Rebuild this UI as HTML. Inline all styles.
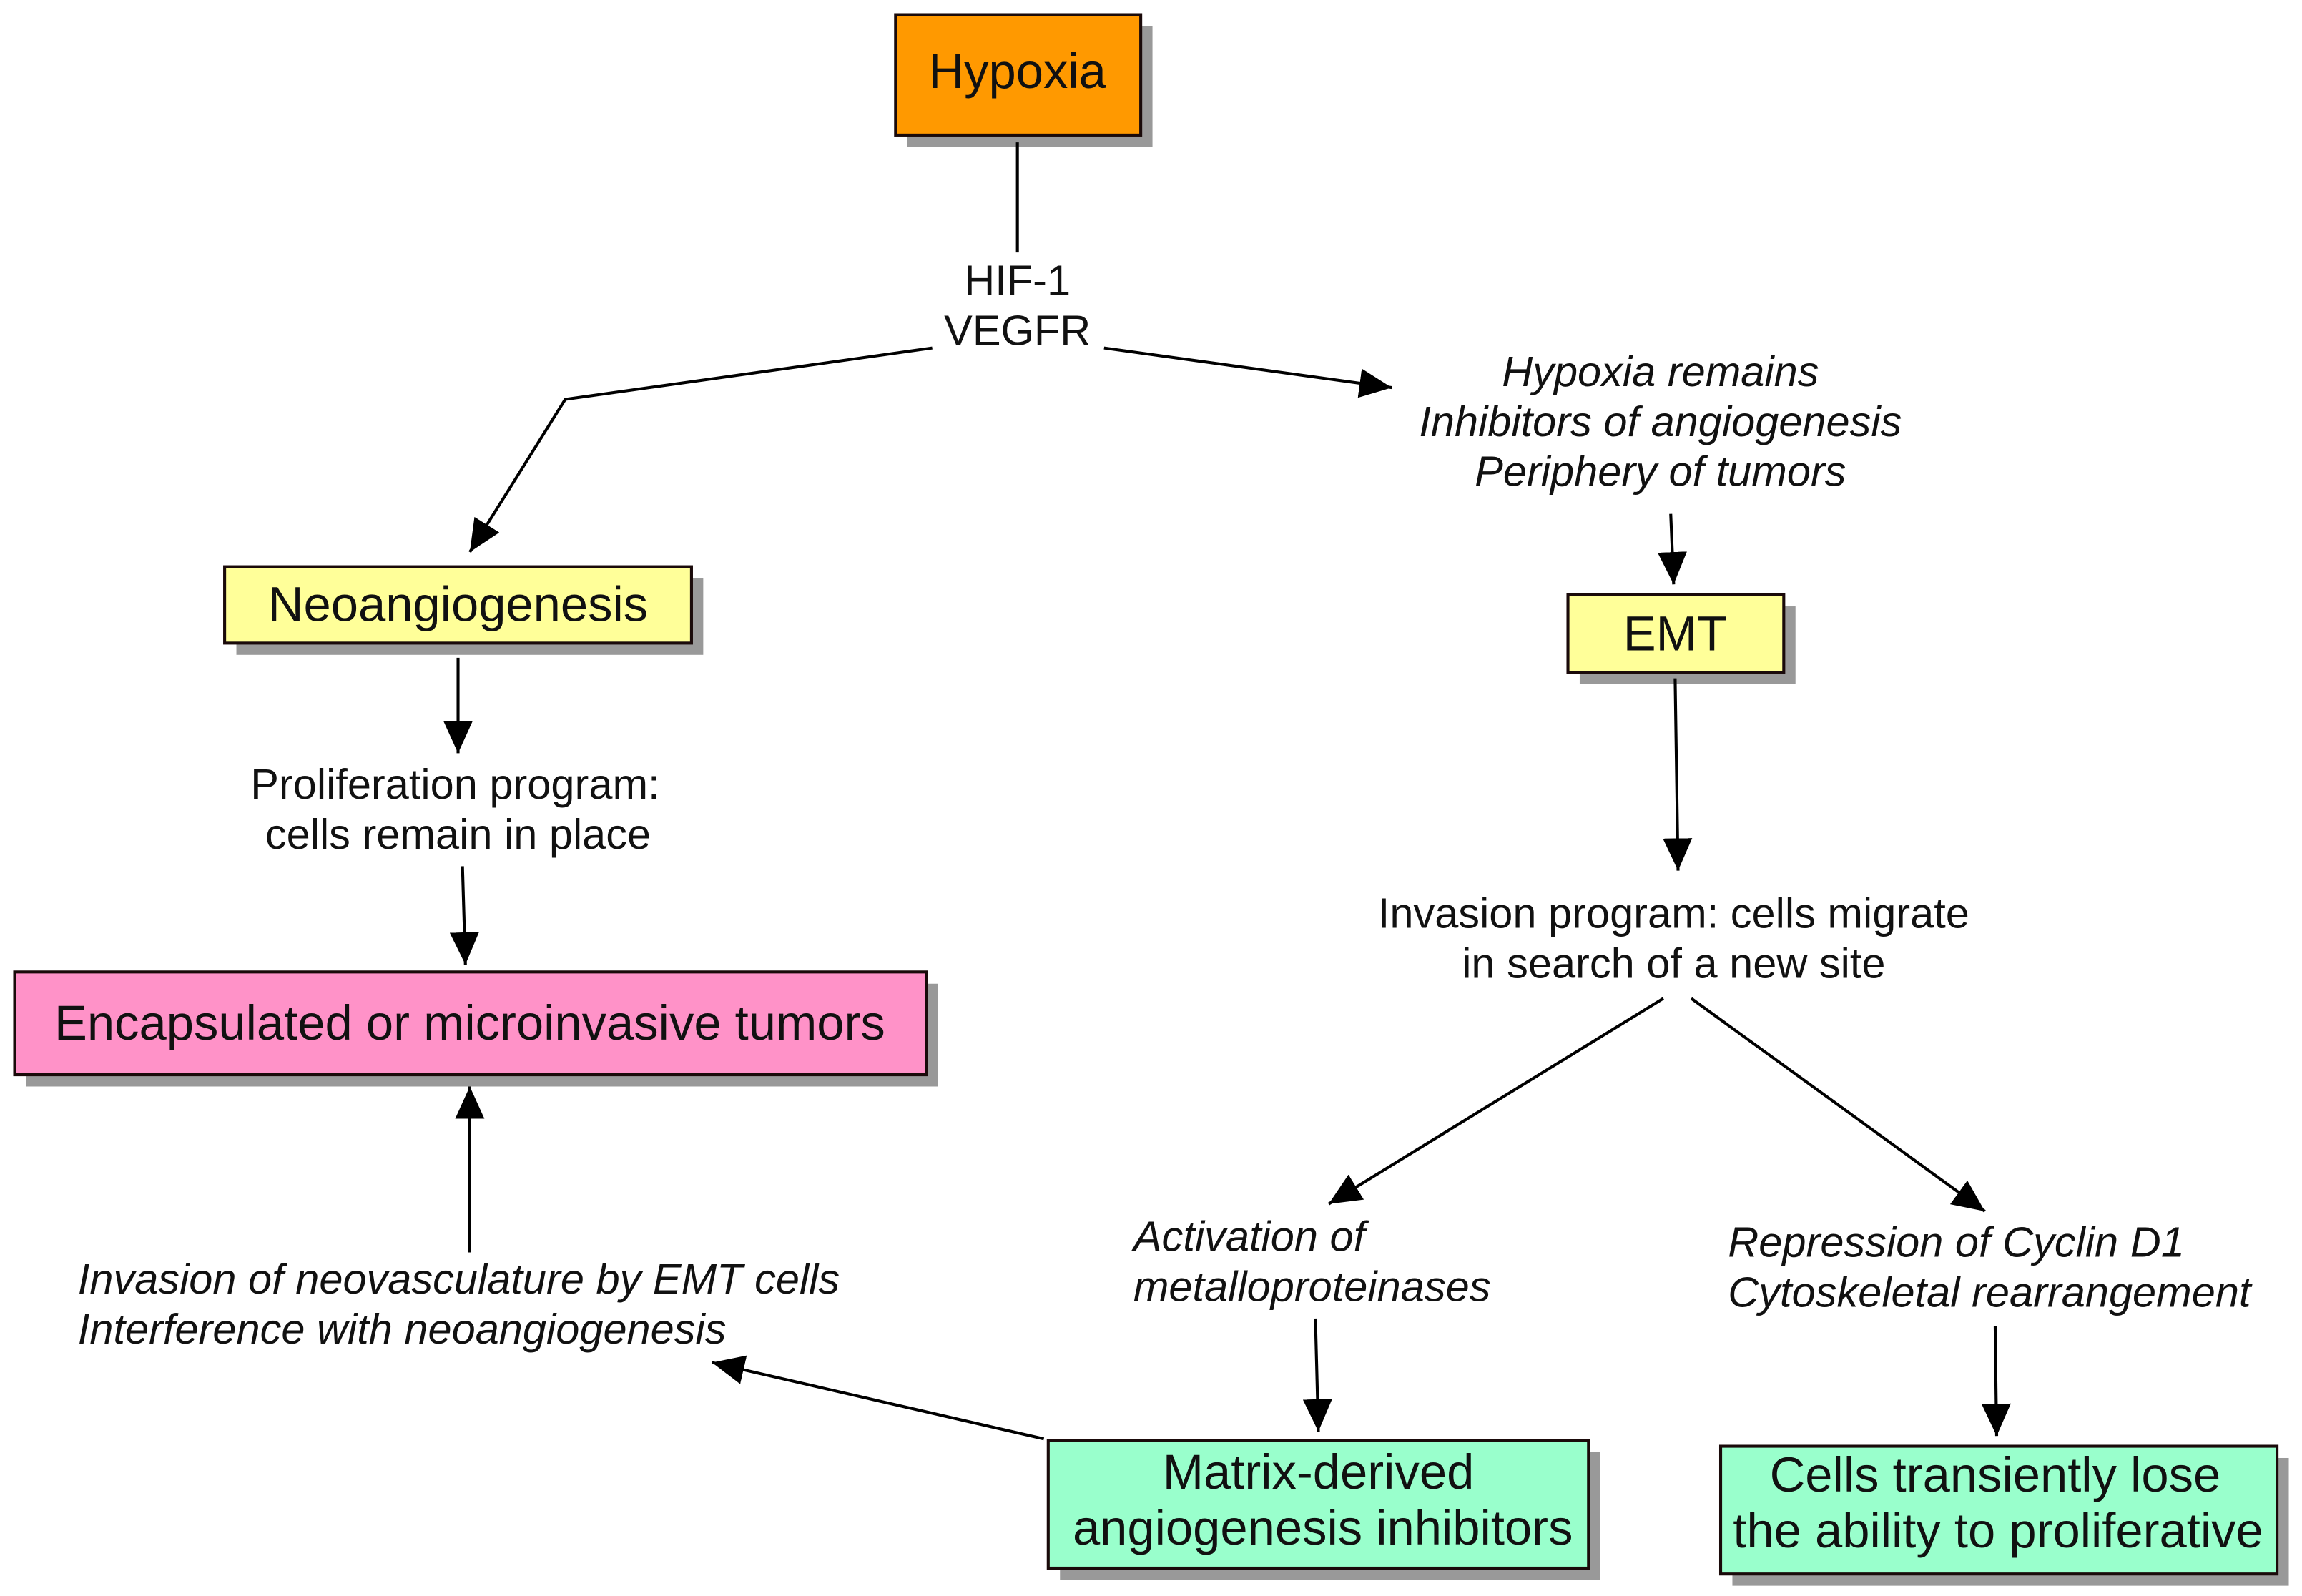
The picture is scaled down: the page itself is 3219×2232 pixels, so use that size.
<!DOCTYPE html>
<html><head><meta charset="utf-8"><style>
html,body{margin:0;padding:0;background:#fff;}
svg{display:block;}
text{font-family:"Liberation Sans",Arial,sans-serif;fill:#111;}
</style></head><body>
<svg width="3219" height="2232" viewBox="0 0 1568 1087" preserveAspectRatio="none" xmlns="http://www.w3.org/2000/svg">
<defs>
<marker id="a" markerUnits="userSpaceOnUse" markerWidth="24" markerHeight="20" refX="22" refY="10" orient="auto">
<path d="M0,0 L22,10 L0,20 Z" fill="#000"/>
</marker>
</defs>
<g fill="#999">
<rect x="618" y="18" width="167" height="82"/>
<rect x="161" y="394" width="318" height="52"/>
<rect x="1076" y="413" width="147" height="53"/>
<rect x="18" y="670" width="621" height="70"/>
<rect x="722" y="989" width="368" height="87"/>
<rect x="1180" y="993" width="379" height="87"/>
</g>
<g stroke="#1a0a0a" stroke-width="2">
<rect x="610" y="10" width="167" height="82" fill="#FF9900"/>
<rect x="153" y="386" width="318" height="52" fill="#FFFF99"/>
<rect x="1068" y="405" width="147" height="53" fill="#FFFF99"/>
<rect x="10" y="662" width="621" height="70" fill="#FF92C8"/>
<rect x="714" y="981" width="368" height="87" fill="#99FFCC"/>
<rect x="1172" y="985" width="379" height="87" fill="#99FFCC"/>
</g>
<g stroke="#000" stroke-width="2" fill="none">
<line x1="693" y1="97" x2="693" y2="172"/>
<polyline points="635,237 385,272 320,376" marker-end="url(#a)"/>
<line x1="752" y1="237" x2="948" y2="264" marker-end="url(#a)"/>
<line x1="1138" y1="350" x2="1140" y2="398" marker-end="url(#a)"/>
<line x1="312" y1="448" x2="312" y2="513" marker-end="url(#a)"/>
<line x1="315" y1="590" x2="317" y2="657" marker-end="url(#a)"/>
<line x1="320" y1="853" x2="320" y2="740" marker-end="url(#a)"/>
<line x1="711" y1="980" x2="485" y2="928" marker-end="url(#a)"/>
<line x1="1141" y1="462" x2="1143" y2="593" marker-end="url(#a)"/>
<line x1="1133" y1="680" x2="905" y2="820" marker-end="url(#a)"/>
<line x1="1152" y1="680" x2="1352" y2="825" marker-end="url(#a)"/>
<line x1="896" y1="898" x2="898" y2="975" marker-end="url(#a)"/>
<line x1="1359" y1="903" x2="1360" y2="978" marker-end="url(#a)"/>
</g>
<g font-size="33.5" text-anchor="middle">
<text x="693" y="60">Hypoxia</text>
<text x="312" y="423">Neoangiogenesis</text>
<text x="1141" y="443">EMT</text>
<text x="320" y="708">Encapsulated or microinvasive tumors</text>
<text x="898" y="1014">Matrix-derived</text>
<text x="901" y="1052">angiogenesis inhibitors</text>
<text x="1359" y="1016">Cells transiently lose</text>
<text x="1361" y="1054">the ability to proliferative</text>
</g>
<g font-size="29" text-anchor="middle">
<text x="693" y="201">HIF-1</text>
<text x="693" y="235">VEGFR</text>
<text x="310" y="544">Proliferation program:</text>
<text x="312" y="578">cells remain in place</text>
<text x="1140" y="632">Invasion program: cells migrate</text>
<text x="1140" y="666">in search of a new site</text>
</g>
<g font-size="29" font-style="italic">
<text x="1131" y="263" text-anchor="middle">Hypoxia remains</text>
<text x="1131" y="297" text-anchor="middle">Inhibitors of angiogenesis</text>
<text x="1131" y="331" text-anchor="middle">Periphery of tumors</text>
<text x="53" y="881">Invasion of neovasculature by EMT cells</text>
<text x="53" y="915">Interference with neoangiogenesis</text>
<text x="772" y="852">Activation of</text>
<text x="772" y="886">metalloproteinases</text>
<text x="1177" y="856">Repression of Cyclin D1</text>
<text x="1177" y="890">Cytoskeletal rearrangement</text>
</g>
</svg>
</body></html>
